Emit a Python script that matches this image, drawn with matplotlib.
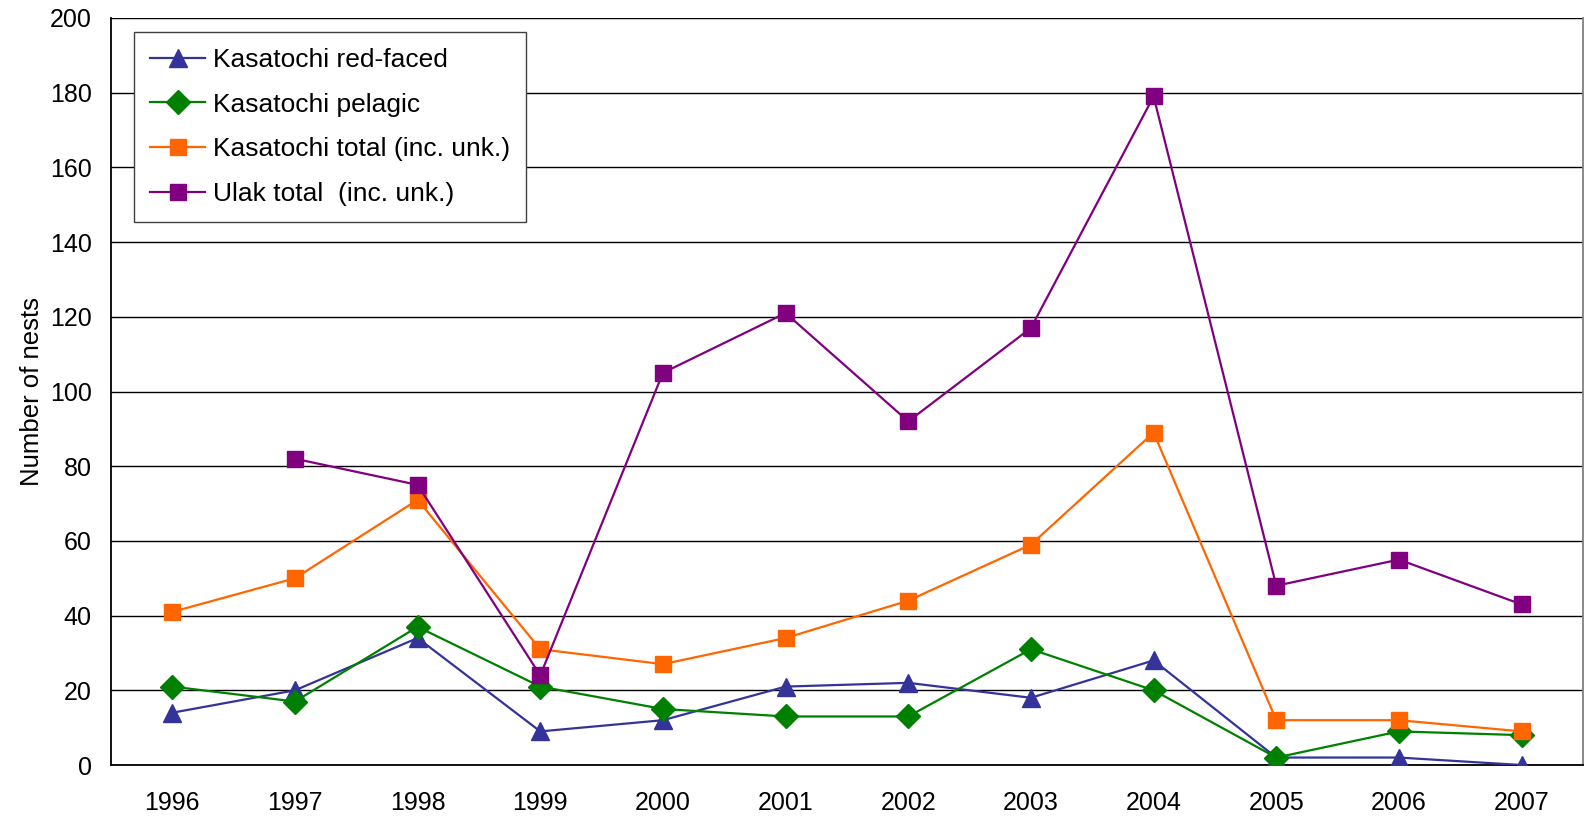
import matplotlib
matplotlib.use("Agg")
import matplotlib.pyplot as plt
import numpy as np

plt.rcParams['font.family'] = ['Liberation Sans', 'DejaVu Sans']

years = ['1996', '1997', '1998', '1999', '2000', '2001', '2002', '2003', '2004', '2005', '2006', '2007']
red_faced = [14, 20, 34, 9, 12, 21, 22, 18, 28, 2, 2, 0]
pelagic = [21, 17, 37, 21, 15, 13, 13, 31, 20, 2, 9, 8]
kasatochi_total = [41, 50, 71, 31, 27, 34, 44, 59, 89, 12, 12, 9]
ulak_total = [np.nan, 82, 75, 24, 105, 121, 92, 117, 179, 48, 55, 43]

x = np.arange(len(years))

fig = plt.figure(figsize=(15.85, 8.25), dpi=100)
ax = fig.add_axes([0.070, 0.0727, 0.9287, 0.9055])

ax.plot(x, red_faced, '-^', color='#333399', lw=1.6, ms=13, label='Kasatochi red-faced', zorder=3)
ax.plot(x, pelagic, '-D', color='#008000', lw=1.6, ms=12, label='Kasatochi pelagic', zorder=3)
ax.plot(x, kasatochi_total, '-s', color='#FF6600', lw=1.6, ms=12, label='Kasatochi total (inc. unk.)', zorder=3)
ax.plot(x, ulak_total, '-s', color='#800080', lw=1.6, ms=12, label='Ulak total  (inc. unk.)', zorder=3)

ax.set_xlim(-0.5, len(years) - 0.5)
ax.set_ylim(0, 200)
ax.set_yticks(range(0, 201, 20))
ax.set_xticks(x)
ax.set_xticklabels(years)
ax.tick_params(length=0, labelsize=18)
ax.tick_params(axis='x', pad=19)
ax.tick_params(axis='y', pad=14)
ax.yaxis.grid(True, color='black', lw=1)
ax.set_axisbelow(True)
for sp in ax.spines.values():
    sp.set_color('black')
    sp.set_linewidth(1.3)
ax.spines['right'].set_color('#808080')
ax.spines['top'].set_visible(False)

ax.set_ylabel('Number of nests', fontsize=18.5, labelpad=4)

leg = ax.legend(loc='upper left', bbox_to_anchor=(0.0158, 0.981), borderaxespad=0,
                fontsize=19, frameon=True, framealpha=1, fancybox=False,
                edgecolor='#404040', handlelength=2.1, handletextpad=0.3,
                labelspacing=0.78, borderpad=0.6)
leg.get_frame().set_linewidth(1.0)
leg.set_zorder(5)

fig.savefig('out.png', dpi=100)
